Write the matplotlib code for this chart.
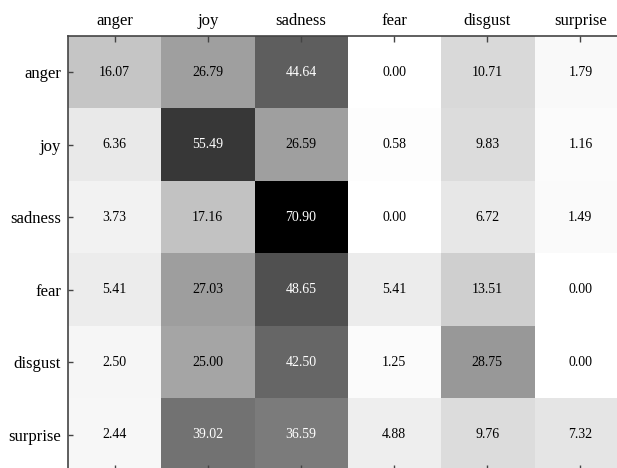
import numpy as np
import matplotlib.pyplot as plt

plt.rcParams['font.family'] = ['Liberation Serif', 'DejaVu Serif']

# emotion labels (rows = true, columns = predicted)
labels = ["anger", "joy", "sadness", "fear", "disgust", "surprise"]

# row-normalised percentages
row_anger = [16.07, 26.79, 44.64, 0.00, 10.71, 1.79]
row_joy = [6.36, 55.49, 26.59, 0.58, 9.83, 1.16]
row_sadness = [3.73, 17.16, 70.90, 0.00, 6.72, 1.49]
row_fear = [5.41, 27.03, 48.65, 5.41, 13.51, 0.00]
row_disgust = [2.50, 25.00, 42.50, 1.25, 28.75, 0.00]
row_surprise = [2.44, 39.02, 36.59, 4.88, 9.76, 7.32]

cm = np.array([row_anger, row_joy, row_sadness, row_fear, row_disgust, row_surprise])

fig = plt.figure(figsize=(6.17, 4.68), dpi=100)
ax = fig.add_axes([0.1102, -0.0064, 0.906, 0.9294])

ax.imshow(cm, cmap="gray_r", vmin=0, vmax=cm.max(), aspect="auto",
          interpolation="nearest")

thresh = cm.max() / 2.0
for i in range(cm.shape[0]):
    for j in range(cm.shape[1]):
        ax.text(j, i, f"{cm[i, j]:.2f}", ha="center", va="center",
                fontsize=10, color="white" if cm[i, j] > thresh else "black")

ax.set_xticks(range(len(labels)))
ax.set_yticks(range(len(labels)))
ax.set_xticklabels(labels)
ax.set_yticklabels(labels)
ax.xaxis.tick_top()
ax.tick_params(axis="x", which="both", top=True, bottom=True, direction="in",
               length=4.3, width=1, color="#444444", labelsize=12, pad=5)
ax.tick_params(axis="y", direction="in", length=3.5, width=1,
               color="#444444", labelsize=12, pad=5)

for side in ax.spines.values():
    side.set_color("#444444")
    side.set_linewidth(1.2)

fig.savefig("out.png", dpi=100)
